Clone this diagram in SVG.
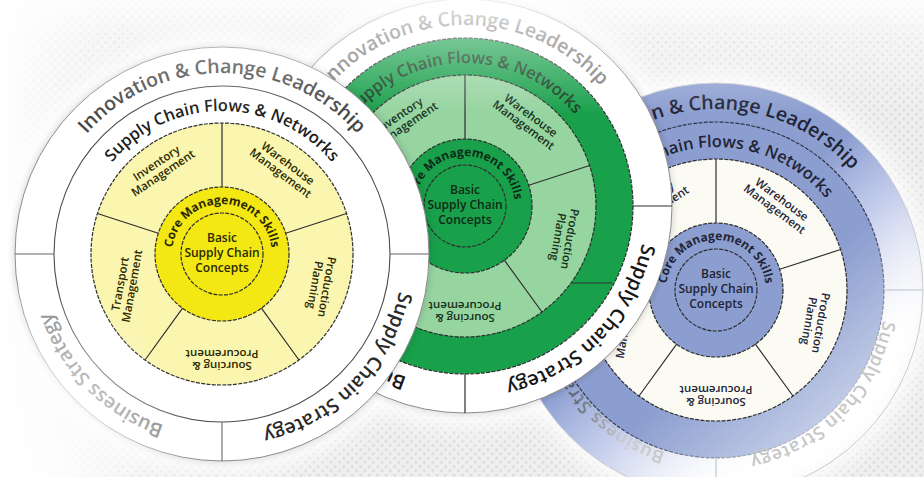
<svg xmlns="http://www.w3.org/2000/svg" width="924" height="477" viewBox="0 0 924 477">
<defs>
<style>
text{font-family:"Open Sans","Liberation Sans",sans-serif;text-anchor:middle}
.o{font-size:19.5px;font-weight:600}
.ob{font-size:18px;font-weight:600;letter-spacing:0.6px}
.f{font-size:16.5px;font-weight:600}
.c{font-size:12px;font-weight:700}
.s{font-size:11.5px;font-weight:600}
.b{font-size:12px;font-weight:600}
.ln{fill:none;stroke:#2e2e2e;stroke-width:1.2}
.dl{fill:none;stroke:#2e2e2e;stroke-width:1.2;stroke-dasharray:4 1.3}
.rim{fill:none;stroke:#8d8d8d;stroke-width:1}
</style>
<path id="p-outer" d="M -156.75 90.5 A 181 181 0 1 1 156.75 90.5"/>
<path id="p-flows" d="M -123.84 71.5 A 143 143 0 1 1 123.84 71.5"/>
<path id="p-core" d="M -43.3 25 A 50 50 0 1 1 43.3 25"/>
<path id="p-strat" d="M 137.64 -117.54 A 181 181 0 0 1 -115.14 139.66"/>
<path id="p-bus" d="M 116.34 138.65 A 181 181 0 0 1 -138.65 -116.34"/>
<path id="p-strat-b" d="M 129.27 -110.4 A 170 170 0 0 1 -108.14 131.17"/>
<path id="p-bus-b" d="M 109.28 130.22 A 170 170 0 0 1 -130.22 -109.28"/>
<path id="seglines" d="M0 -67V-131 M63.72 -20.7L124.59 -40.48 M39.38 54.2L77 105.98 M-39.38 54.2L-77 105.98 M-63.72 -20.7L-124.59 -40.48"/>
<pattern id="dots" width="6" height="6" patternUnits="userSpaceOnUse" patternTransform="rotate(45)">
<rect width="6" height="6" fill="#efefef"/>
<circle cx="3" cy="3" r="1.4" fill="#dadada"/>
</pattern>
<filter id="glow" x="-30%" y="-30%" width="160%" height="160%"><feGaussianBlur stdDeviation="12"/></filter>
<filter id="shadow" x="-10%" y="-10%" width="120%" height="120%"><feGaussianBlur stdDeviation="3"/></filter>
<linearGradient id="topFade" x1="0" y1="0" x2="0" y2="1">
<stop offset="0" stop-color="#fff" stop-opacity="0.85"/>
<stop offset="0.35" stop-color="#fff" stop-opacity="0.4"/>
<stop offset="1" stop-color="#fff" stop-opacity="0"/>
</linearGradient>
<linearGradient id="leftFade" x1="0" y1="0" x2="1" y2="0">
<stop offset="0" stop-color="#fff" stop-opacity="1"/>
<stop offset="1" stop-color="#fff" stop-opacity="0"/>
</linearGradient>
<radialGradient id="llFade" gradientUnits="userSpaceOnUse" cx="0" cy="477" r="250">
<stop offset="0" stop-color="#fff" stop-opacity="0.95"/>
<stop offset="0.45" stop-color="#fff" stop-opacity="0.6"/>
<stop offset="0.8" stop-color="#fff" stop-opacity="0"/>
</radialGradient>
<linearGradient id="blueOuter" gradientUnits="userSpaceOnUse" x1="-96" y1="-140" x2="164" y2="160">
<stop offset="0" stop-color="#8c9ed0" stop-opacity="1"/>
<stop offset="0.35" stop-color="#8c9ed0" stop-opacity="1"/>
<stop offset="0.55" stop-color="#9dace0" stop-opacity="0.55"/>
<stop offset="0.75" stop-color="#c5cde8" stop-opacity="0.1"/>
<stop offset="0.85" stop-color="#ffffff" stop-opacity="0"/>
</linearGradient>
<linearGradient id="blueFlows" gradientUnits="userSpaceOnUse" x1="-96" y1="-140" x2="164" y2="160">
<stop offset="0" stop-color="#8c9ed0"/>
<stop offset="0.55" stop-color="#8c9ed0"/>
<stop offset="1" stop-color="#dde2f1"/>
</linearGradient>
<linearGradient id="blueLine" gradientUnits="userSpaceOnUse" x1="-96" y1="-140" x2="164" y2="160">
<stop offset="0" stop-color="#2e3448"/>
<stop offset="0.5" stop-color="#2e3448"/>
<stop offset="0.85" stop-color="#2e3448" stop-opacity="0.2"/>
</linearGradient>
<linearGradient id="blueBus" gradientUnits="userSpaceOnUse" x1="-160" y1="0" x2="-95" y2="0">
<stop offset="0" stop-color="#3c4257"/>
<stop offset="1" stop-color="#c9c9c9"/>
</linearGradient>
</defs>

<g id="background">
<rect width="924" height="477" fill="url(#dots)"/>
<g filter="url(#glow)" fill="#fff">
<circle cx="222" cy="254" r="220"/>
<circle cx="465" cy="206" r="220"/>
<circle cx="716" cy="290" r="215"/>
</g>
<rect width="120" height="477" fill="url(#leftFade)"/>
</g>

<g id="wheel-blue" transform="translate(716,290)">
<circle r="207" fill="url(#blueOuter)" stroke="#c8cbd3" stroke-width="1"/>
<circle r="168" fill="url(#blueFlows)" stroke="url(#blueLine)" stroke-width="1.2" stroke-dasharray="4 1.3"/>
<circle r="131" fill="#fbfaf3"/>
<circle r="131" class="dl"/>
<circle r="67" fill="#8c9ed0"/>
<circle r="67" class="dl"/>
<circle r="41" class="dl"/>
<use href="#seglines" class="ln"/>
<path d="M168 0H207 M0 168V207 M-168 0H-207" fill="none" stroke="#bcc0cb" stroke-width="1.1"/>
<text class="o" fill="#1f2436"><textPath href="#p-outer" startOffset="50%">Innovation &amp; Change Leadership</textPath></text>
<text class="f" fill="#1f2436"><textPath href="#p-flows" startOffset="50%">Supply Chain Flows &amp; Networks</textPath></text>
<text class="c" fill="#1f2436"><textPath href="#p-core" startOffset="50%">Core Management Skills</textPath></text>
<text class="ob" fill="#c6c6c6"><textPath href="#p-strat-b" startOffset="50%">Supply Chain Strategy</textPath></text>
<text class="ob" fill="url(#blueBus)"><textPath href="#p-bus-b" startOffset="50%">Business Strategy</textPath></text>
<text class="b" fill="#1f2436"><tspan x="0" y="-12">Basic</tspan><tspan x="0" y="3">Supply Chain</tspan><tspan x="0" y="18">Concepts</tspan></text>
<g fill="#1f2436">
<text class="s" transform="translate(-62.3,-85.8) rotate(-34)"><tspan x="0" y="-2">Inventory</tspan><tspan x="0" y="10">Management</tspan></text>
<text class="s" transform="translate(62.3,-85.8) rotate(37)"><tspan x="0" y="-2">Warehouse</tspan><tspan x="0" y="10">Management</tspan></text>
<text class="s" transform="translate(99,32) rotate(100)"><tspan x="0" y="-2">Production</tspan><tspan x="0" y="10">Planning</tspan></text>
<text class="s" transform="translate(0,106) rotate(180)"><tspan x="0" y="-2">Sourcing &amp;</tspan><tspan x="0" y="10">Procurement</tspan></text>
<text class="s" transform="translate(-96,31) rotate(-80)"><tspan x="0" y="-2">Transport</tspan><tspan x="0" y="10">Management</tspan></text>
</g>
</g>

<g id="wheel-green" transform="translate(465,206)">
<circle r="209" fill="#000" opacity="0.12" filter="url(#shadow)"/>
<circle r="207" fill="#ffffff"/>
<circle r="207" class="rim"/>
<circle r="168" fill="#19a04b"/>
<circle r="168" class="dl"/>
<circle r="131" fill="#96d4a0"/>
<circle r="131" class="dl"/>
<circle r="67" fill="#19a04b"/>
<circle r="67" class="dl"/>
<circle r="41" class="dl"/>
<use href="#seglines" class="ln"/>
<path d="M107 77H147" class="ln"/>
<path d="M168 0H207 M0 168V207 M-168 0H-207" class="ln" stroke="#555"/>
<text class="o" fill="#7a7a7a"><textPath href="#p-outer" startOffset="50%">Innovation &amp; Change Leadership</textPath></text>
<text class="f" fill="#173a20"><textPath href="#p-flows" startOffset="50%">Supply Chain Flows &amp; Networks</textPath></text>
<text class="c" fill="#0f2a16"><textPath href="#p-core" startOffset="50%">Core Management Skills</textPath></text>
<text class="o" fill="#161616"><textPath href="#p-strat" startOffset="50%">Supply Chain Strategy</textPath></text>
<text class="o" fill="#161616"><textPath href="#p-bus" startOffset="50%">Business Strategy</textPath></text>
<text class="b" fill="#0f2a16"><tspan x="0" y="-12">Basic</tspan><tspan x="0" y="3">Supply Chain</tspan><tspan x="0" y="18">Concepts</tspan></text>
<g fill="#15301b">
<text class="s" transform="translate(-62.3,-85.8) rotate(-34)"><tspan x="0" y="-2">Inventory</tspan><tspan x="0" y="10">Management</tspan></text>
<text class="s" transform="translate(62.3,-85.8) rotate(37)"><tspan x="0" y="-2">Warehouse</tspan><tspan x="0" y="10">Management</tspan></text>
<text class="s" transform="translate(99,32) rotate(100)"><tspan x="0" y="-2">Production</tspan><tspan x="0" y="10">Planning</tspan></text>
<text class="s" transform="translate(0,106) rotate(180)"><tspan x="0" y="-2">Sourcing &amp;</tspan><tspan x="0" y="10">Procurement</tspan></text>
</g>
</g>

<g id="wheel-yellow" transform="translate(222,254)">
<circle r="209" fill="#000" opacity="0.12" filter="url(#shadow)"/>
<circle r="207" fill="#ffffff"/>
<circle r="207" class="rim"/>
<circle r="168" fill="#ffffff"/>
<circle r="168" fill="none" stroke="#4a4a4a" stroke-width="1.1"/>
<circle r="131" fill="#faf5af"/>
<circle r="131" class="dl"/>
<circle r="67" fill="#f3e814"/>
<circle r="67" class="dl"/>
<circle r="41" class="dl"/>
<use href="#seglines" class="ln"/>
<path d="M168 0H207 M0 168V207 M-168 0H-207" fill="none" stroke="#666" stroke-width="1.1"/>
<text class="o" fill="#474747"><textPath href="#p-outer" startOffset="50%">Innovation &amp; Change Leadership</textPath></text>
<text class="f" fill="#1c1c1c"><textPath href="#p-flows" startOffset="50%">Supply Chain Flows &amp; Networks</textPath></text>
<text class="c" fill="#2a2800"><textPath href="#p-core" startOffset="50%">Core Management Skills</textPath></text>
<text class="o" fill="#2a2a2a"><textPath href="#p-strat" startOffset="50%">Supply Chain Strategy</textPath></text>
<text class="o" fill="#7d7d7d"><textPath href="#p-bus" startOffset="50%">Business Strategy</textPath></text>
<text class="b" fill="#2a2800"><tspan x="0" y="-12">Basic</tspan><tspan x="0" y="3">Supply Chain</tspan><tspan x="0" y="18">Concepts</tspan></text>
<g fill="#2a2800">
<text class="s" transform="translate(-62.3,-85.8) rotate(-34)"><tspan x="0" y="-2">Inventory</tspan><tspan x="0" y="10">Management</tspan></text>
<text class="s" transform="translate(62.3,-85.8) rotate(37)"><tspan x="0" y="-2">Warehouse</tspan><tspan x="0" y="10">Management</tspan></text>
<text class="s" transform="translate(99,32) rotate(100)"><tspan x="0" y="-2">Production</tspan><tspan x="0" y="10">Planning</tspan></text>
<text class="s" transform="translate(0,106) rotate(180)"><tspan x="0" y="-2">Sourcing &amp;</tspan><tspan x="0" y="10">Procurement</tspan></text>
<text class="s" transform="translate(-96,31) rotate(-80)"><tspan x="0" y="-2">Transport</tspan><tspan x="0" y="10">Management</tspan></text>
</g>
</g>

<g id="fades">
<rect width="924" height="115" fill="url(#topFade)"/>
<rect y="200" width="300" height="277" fill="url(#llFade)"/>
</g>
</svg>
